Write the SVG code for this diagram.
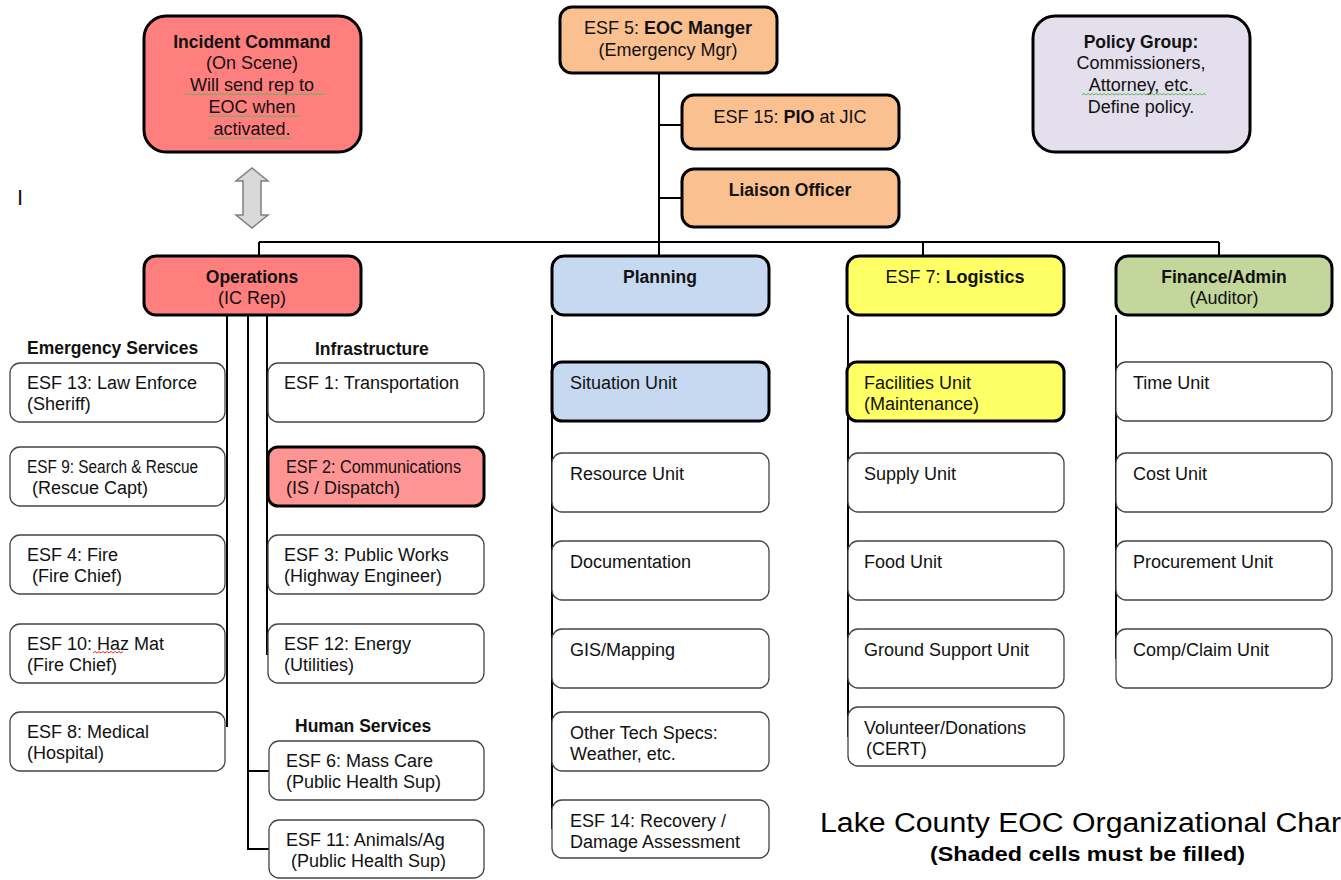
<svg xmlns="http://www.w3.org/2000/svg" width="1341" height="880" viewBox="0 0 1341 880">
<style>
text{font-family:"Liberation Sans",Arial,sans-serif;font-size:18px;fill:#111}
.b{font-weight:bold;font-size:17.5px}
.c{text-anchor:middle}
.thick{stroke:#000;stroke-width:3}
.thin{fill:#fff;stroke:#444;stroke-width:1.3}
.red{fill:#FF7F7F}
.red2{fill:#FF9494}
.peach{fill:#FAC08F}
.blue{fill:#C6D9F1}
.yel{fill:#FFFF66}
.grn{fill:#C3D69B}
.lav{fill:#E4DFEC}
.ln{stroke:#000;stroke-width:2;fill:none}
.sq{fill:none;stroke:#5cb85c;stroke-width:1}
.sqr{fill:none;stroke:#e03030;stroke-width:1}
</style>
<rect width="1341" height="880" fill="#fff"/>
<g id="connectors">
<path class="ln" d="M659,73 V256 M659,125 H682 M659,198 H682 M259,242 H1219 M259,242 V256 M923,242 V256 M1219,242 V256"/>
<path class="ln" d="M227,315 V727 M248,315 V849 H269 M248,771 H269 M267,315 V655"/>
<path class="ln" d="M552,315 V829 M848,315 V737 M1116,315 V659"/>
</g>
<g id="incident-command">
<rect x="144" y="16" width="217" height="136" rx="22" class="red thick"/>
<text x="252" y="48" class="b c">Incident Command</text>
<text x="252" y="69" class="c">(On Scene)</text>
<text x="252" y="91" class="c">Will send rep to</text>
<text x="252" y="113" class="c">EOC when</text>
<text x="252" y="135" class="c">activated.</text>
<path class="sq" d="M185,95 l2,-1.5 l2,1.5 l2,-1.5 l2,1.5 l2,-1.5 l2,1.5 l2,-1.5 l2,1.5 l2,-1.5 l2,1.5 l2,-1.5 l2,1.5 l2,-1.5 l2,1.5 l2,-1.5 l2,1.5 l2,-1.5 l2,1.5 l2,-1.5 l2,1.5 l2,-1.5 l2,1.5 l2,-1.5 l2,1.5 l2,-1.5 l2,1.5 l2,-1.5 l2,1.5 l2,-1.5 l2,1.5 l2,-1.5 l2,1.5 l2,-1.5 l2,1.5 l2,-1.5 l2,1.5 l2,-1.5 l2,1.5 l2,-1.5 l2,1.5 l2,-1.5 l2,1.5 l2,-1.5 l2,1.5 l2,-1.5 l2,1.5 l2,-1.5 l2,1.5 l2,-1.5 l2,1.5 l2,-1.5 l2,1.5 l2,-1.5 l2,1.5 l2,-1.5 l2,1.5 l2,-1.5 l2,1.5 l2,-1.5 l2,1.5 l2,-1.5 l2,1.5 l2,-1.5 l2,1.5 l2,-1.5 l2,1.5 l2,-1.5 l2,1.5 l2,-1.5 l2,1.5"/>
<path class="sq" d="M208,117 l2,-1.5 l2,1.5 l2,-1.5 l2,1.5 l2,-1.5 l2,1.5 l2,-1.5 l2,1.5 l2,-1.5 l2,1.5 l2,-1.5 l2,1.5 l2,-1.5 l2,1.5 l2,-1.5 l2,1.5 l2,-1.5 l2,1.5 l2,-1.5 l2,1.5 l2,-1.5 l2,1.5 l2,-1.5 l2,1.5 l2,-1.5 l2,1.5 l2,-1.5 l2,1.5 l2,-1.5 l2,1.5 l2,-1.5 l2,1.5 l2,-1.5 l2,1.5 l2,-1.5 l2,1.5 l2,-1.5 l2,1.5 l2,-1.5 l2,1.5 l2,-1.5 l2,1.5 l2,-1.5 l2,1.5 l2,-1.5 l2,1.5"/>
<path class="sq" d="M209,139 l2,-1.5 l2,1.5 l2,-1.5 l2,1.5 l2,-1.5 l2,1.5 l2,-1.5 l2,1.5 l2,-1.5 l2,1.5 l2,-1.5 l2,1.5 l2,-1.5 l2,1.5 l2,-1.5 l2,1.5 l2,-1.5 l2,1.5 l2,-1.5 l2,1.5 l2,-1.5 l2,1.5 l2,-1.5 l2,1.5 l2,-1.5 l2,1.5 l2,-1.5 l2,1.5 l2,-1.5 l2,1.5 l2,-1.5 l2,1.5 l2,-1.5 l2,1.5 l2,-1.5 l2,1.5 l2,-1.5 l2,1.5 l2,-1.5 l2,1.5 l2,-1.5"/>
</g>
<g id="double-arrow">
<path d="M252,168 L268,181 L261,181 L261,215 L268,215 L252,228 L236,215 L243,215 L243,181 L236,181 Z" fill="#d9d9d9" stroke="#7f7f7f" stroke-width="1.5"/>
</g>
<g id="cursor-mark"><text x="17" y="205" style="font-size:22px">I</text></g>
<g id="esf5">
<rect x="560" y="7" width="217" height="66" rx="12" class="peach thick"/>
<text x="668" y="34" class="c">ESF 5: <tspan font-weight="bold">EOC Manger</tspan></text>
<text x="668" y="56" class="c">(Emergency Mgr)</text>
</g>
<g id="esf15">
<rect x="682" y="95" width="217" height="54" rx="12" class="peach thick"/>
<text x="790" y="123" class="c">ESF 15: <tspan font-weight="bold">PIO</tspan> at JIC</text>
</g>
<g id="liaison">
<rect x="682" y="169" width="217" height="58" rx="12" class="peach thick"/>
<text x="790" y="196" class="b c">Liaison Officer</text>
</g>
<g id="policy-group">
<rect x="1033" y="16" width="217" height="136" rx="22" class="lav thick"/>
<text x="1141" y="48" class="b c">Policy Group:</text>
<text x="1141" y="69" class="c">Commissioners,</text>
<text x="1141" y="91" class="c">Attorney, etc.</text>
<text x="1141" y="113" class="c">Define policy.</text>
<path class="sq" d="M1082,95 l2,-1.5 l2,1.5 l2,-1.5 l2,1.5 l2,-1.5 l2,1.5 l2,-1.5 l2,1.5 l2,-1.5 l2,1.5 l2,-1.5 l2,1.5 l2,-1.5 l2,1.5 l2,-1.5 l2,1.5 l2,-1.5 l2,1.5 l2,-1.5 l2,1.5 l2,-1.5 l2,1.5 l2,-1.5 l2,1.5 l2,-1.5 l2,1.5 l2,-1.5 l2,1.5 l2,-1.5 l2,1.5 l2,-1.5 l2,1.5 l2,-1.5 l2,1.5 l2,-1.5 l2,1.5 l2,-1.5 l2,1.5 l2,-1.5 l2,1.5 l2,-1.5 l2,1.5 l2,-1.5 l2,1.5 l2,-1.5 l2,1.5 l2,-1.5 l2,1.5 l2,-1.5 l2,1.5 l2,-1.5 l2,1.5 l2,-1.5 l2,1.5 l2,-1.5 l2,1.5 l2,-1.5 l2,1.5 l2,-1.5 l2,1.5 l2,-1.5 l2,1.5"/>
</g>
<g id="operations">
<rect x="144" y="256" width="217" height="59" rx="12" class="red thick"/>
<text x="252" y="283" class="b c">Operations</text>
<text x="252" y="304" class="c">(IC Rep)</text>
</g>
<g id="planning">
<rect x="552" y="256" width="217" height="59" rx="12" class="blue thick"/>
<text x="660" y="283" class="b c">Planning</text>
</g>
<g id="logistics">
<rect x="847" y="256" width="217" height="59" rx="12" class="yel thick"/>
<text x="955" y="283" class="c">ESF 7: <tspan font-weight="bold">Logistics</tspan></text>
</g>
<g id="finance">
<rect x="1116" y="256" width="216" height="59" rx="12" class="grn thick"/>
<text x="1224" y="283" class="b c">Finance/Admin</text>
<text x="1224" y="304" class="c">(Auditor)</text>
</g>
<g id="section-labels">
<text x="27" y="354" class="b">Emergency Services</text>
<text x="315" y="355" class="b">Infrastructure</text>
<text x="295" y="732" class="b">Human Services</text>
</g>
<g id="esf13"><rect x="10" y="363" width="215" height="59" rx="10" class="thin"/><text x="27" y="389">ESF 13: Law Enforce</text><text x="27" y="410">(Sheriff)</text></g>
<g id="esf9"><rect x="10" y="447" width="215" height="59" rx="10" class="thin"/><text x="27" y="473" textLength="171" lengthAdjust="spacingAndGlyphs">ESF 9: Search &amp; Rescue</text><text x="32" y="494">(Rescue Capt)</text></g>
<g id="esf4"><rect x="10" y="535" width="215" height="59" rx="10" class="thin"/><text x="27" y="561">ESF 4: Fire</text><text x="32" y="582">(Fire Chief)</text></g>
<g id="esf10"><rect x="10" y="624" width="215" height="59" rx="10" class="thin"/><text x="27" y="650">ESF 10: Haz Mat</text><text x="27" y="671">(Fire Chief)</text>
<path class="sqr" d="M93,653 l2,-1.5 l2,1.5 l2,-1.5 l2,1.5 l2,-1.5 l2,1.5 l2,-1.5 l2,1.5 l2,-1.5 l2,1.5 l2,-1.5 l2,1.5 l2,-1.5 l2,1.5 l2,-1.5"/></g>
<g id="esf8"><rect x="10" y="712" width="215" height="59" rx="10" class="thin"/><text x="27" y="738">ESF 8: Medical</text><text x="27" y="759">(Hospital)</text></g>
<g id="esf1"><rect x="268" y="363" width="216" height="59" rx="10" class="thin"/><text x="284" y="389">ESF 1: Transportation</text></g>
<g id="esf2"><rect x="268" y="447" width="216" height="59" rx="10" class="red2 thick"/><text x="286" y="473" textLength="175" lengthAdjust="spacingAndGlyphs">ESF 2: Communications</text><text x="286" y="494">(IS / Dispatch)</text></g>
<g id="esf3"><rect x="268" y="535" width="216" height="59" rx="10" class="thin"/><text x="284" y="561">ESF 3: Public Works</text><text x="284" y="582">(Highway Engineer)</text></g>
<g id="esf12"><rect x="268" y="624" width="216" height="59" rx="10" class="thin"/><text x="284" y="650">ESF 12: Energy</text><text x="284" y="671">(Utilities)</text></g>
<g id="esf6"><rect x="269" y="741" width="215" height="59" rx="10" class="thin"/><text x="286" y="767">ESF 6: Mass Care</text><text x="286" y="788">(Public Health Sup)</text></g>
<g id="esf11"><rect x="269" y="820" width="215" height="58" rx="10" class="thin"/><text x="286" y="846">ESF 11: Animals/Ag</text><text x="291" y="867">(Public Health Sup)</text></g>
<g id="situation"><rect x="552" y="362" width="217" height="59" rx="10" class="blue thick"/><text x="570" y="389">Situation Unit</text></g>
<g id="resource"><rect x="552" y="453" width="217" height="59" rx="10" class="thin"/><text x="570" y="480">Resource Unit</text></g>
<g id="documentation"><rect x="552" y="541" width="217" height="59" rx="10" class="thin"/><text x="570" y="568">Documentation</text></g>
<g id="gis"><rect x="552" y="629" width="217" height="59" rx="10" class="thin"/><text x="570" y="656">GIS/Mapping</text></g>
<g id="tech-specs"><rect x="552" y="712" width="217" height="59" rx="10" class="thin"/><text x="570" y="739">Other Tech Specs:</text><text x="570" y="760">Weather, etc.</text></g>
<g id="esf14"><rect x="552" y="800" width="217" height="58" rx="10" class="thin"/><text x="570" y="827">ESF 14: Recovery /</text><text x="570" y="848">Damage Assessment</text></g>
<g id="facilities"><rect x="847" y="362" width="217" height="59" rx="10" class="yel thick"/><text x="864" y="389">Facilities Unit</text><text x="864" y="410">(Maintenance)</text></g>
<g id="supply"><rect x="848" y="453" width="216" height="59" rx="10" class="thin"/><text x="864" y="480">Supply Unit</text></g>
<g id="food"><rect x="848" y="541" width="216" height="59" rx="10" class="thin"/><text x="864" y="568">Food Unit</text></g>
<g id="ground"><rect x="848" y="629" width="216" height="59" rx="10" class="thin"/><text x="864" y="656">Ground Support Unit</text></g>
<g id="volunteer"><rect x="848" y="707" width="216" height="59" rx="10" class="thin"/><text x="864" y="734">Volunteer/Donations</text><text x="866" y="755">(CERT)</text></g>
<g id="time"><rect x="1116" y="362" width="216" height="59" rx="10" class="thin"/><text x="1133" y="389">Time Unit</text></g>
<g id="cost"><rect x="1116" y="453" width="216" height="59" rx="10" class="thin"/><text x="1133" y="480">Cost Unit</text></g>
<g id="procurement"><rect x="1116" y="541" width="216" height="59" rx="10" class="thin"/><text x="1133" y="568">Procurement Unit</text></g>
<g id="compclaim"><rect x="1116" y="629" width="216" height="59" rx="10" class="thin"/><text x="1133" y="656">Comp/Claim Unit</text></g>
<g id="title">
<text x="820" y="832" style="font-size:27px;fill:#000" textLength="521" lengthAdjust="spacingAndGlyphs">Lake County EOC Organizational Char</text>
<text x="930" y="861" style="font-size:21px;font-weight:bold;fill:#000" textLength="315" lengthAdjust="spacingAndGlyphs">(Shaded cells must be filled)</text>
</g>
</svg>
